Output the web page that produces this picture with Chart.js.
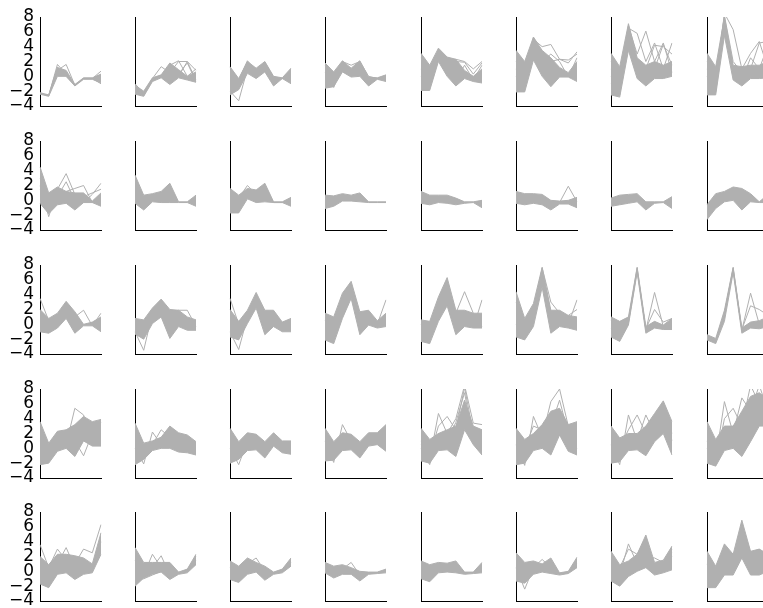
<!DOCTYPE html>
<html>
<head>
<meta charset="utf-8">
<script src="https://cdn.jsdelivr.net/npm/chart.js"></script>
<style>
  html, body { margin: 0; padding: 0; background: #fff; }
  #wrap { position: relative; width: 763px; height: 608px; overflow: hidden; }
  #wrap canvas { position: absolute; }
</style>
</head>
<body>
<div id="wrap"></div>
<script>
// ---- data ----
const xCats = ['0','1','2','3','4','5','6','7'];
const yTickValues = [-4, -2, 0, 2, 4, 6, 8];
const yTickLabels = ['\u22124', '\u22122', '0', '2', '4', '6', '8'];

// Row 1
const r1c1Lo = [-2.4,-2.7,0.0,0.0,-1.3,-0.4,-0.4,-0.9];
const r1c1Hi = [-2.2,-2.5,1.2,0.8,-1.1,-0.2,-0.2,0.3];
const r1c1Ex = [[-2.3,-2.6,1.6,0.3,-1.2,-0.3,-0.3,0.7],[-2.3,-2.6,0.8,1.6,-1.2,-0.3,-0.3,0.2],[-2.3,-2.6,1.2,0.0,-1.2,-0.3,-0.3,-1.0]];
const r1c2Lo = [-2.4,-2.7,-0.7,-0.2,-1.1,-0.2,-0.5,-0.8];
const r1c2Hi = [-1.2,-2.0,-0.2,0.2,1.8,0.9,0.0,0.6];
const r1c2Ex = [[-1.0,-2.3,-0.3,1.3,0.5,2.0,2.0,-0.5],[-1.5,-2.2,-0.4,0.0,1.5,2.1,0.0,1.0],[-2.0,-2.6,-0.5,0.0,0.2,0.0,2.0,0.8],[-1.8,-2.4,-0.4,0.1,1.0,0.3,1.8,-0.7]];
const r1c3Lo = [-2.5,-1.8,0.4,-0.3,0.6,-1.3,-0.3,-1.0];
const r1c3Hi = [1.3,-0.3,2.0,1.1,2.0,0.0,-0.2,1.1];
const r1c3Ex = [[-2.0,-3.3,1.0,0.5,1.5,-0.5,-0.3,0.5],[1.2,-0.5,2.1,0.8,1.9,-0.2,-0.3,0.8]];
const r1c4Lo = [-1.6,-1.4,0.6,-0.1,0.0,-1.3,-0.4,-0.7];
const r1c4Hi = [1.8,0.6,2.1,1.1,2.1,-0.1,-0.2,0.2];
const r1c4Ex = [[0.5,-1.5,1.8,0.6,1.9,-0.5,-0.3,0.0],[1.5,0.0,2.0,1.5,2.0,0.0,-0.3,-0.5]];
const r1c5Lo = [-1.9,-1.9,2.0,0.0,-1.3,-0.3,-0.7,-0.9];
const r1c5Hi = [3.1,1.5,3.8,2.6,2.3,0.8,0.0,1.0];
const r1c5Ex = [[1.0,-1.0,3.6,2.2,2.3,2.0,1.0,2.0],[2.5,0.5,3.2,1.5,2.0,1.9,0.3,1.8],[0.0,-1.5,2.5,1.0,-0.5,1.5,-0.5,1.5]];
const r1c6Lo = [-2.1,-2.1,2.2,0.0,-1.4,-0.1,-0.1,-0.7];
const r1c6Hi = [3.5,2.0,5.3,3.5,2.5,1.2,0.5,2.0];
const r1c6Ex = [[1.0,-1.0,5.0,4.0,4.3,2.3,2.2,3.0],[2.0,0.0,5.2,3.0,2.0,2.3,1.8,3.3],[0.0,-1.5,4.5,2.0,3.0,2.0,-0.1,2.5]];
const r1c7Lo = [-2.5,-2.8,3.5,-0.3,-1.3,-0.3,-0.3,0.0];
const r1c7Hi = [3.1,1.3,7.1,2.5,1.5,2.0,1.5,2.0];
const r1c7Ex = [[1.0,-1.0,6.5,5.8,2.0,4.5,1.0,4.5],[2.0,0.0,6.8,3.0,6.1,2.0,4.5,0.5],[0.0,-2.0,6.0,2.0,1.0,4.2,4.0,3.0],[-1.0,-2.5,5.5,1.5,0.0,1.0,4.3,1.5]];
const r1c8Lo = [-2.5,-2.5,5.5,-0.5,-1.3,-0.3,-0.3,-0.2];
const r1c8Hi = [3.1,1.3,8.0,1.5,1.3,1.5,1.5,2.0];
const r1c8Ex = [[1.0,-1.0,8.5,6.3,1.0,3.1,4.7,1.0],[2.0,0.0,8.2,2.0,0.5,1.0,4.5,4.7],[0.0,-2.0,7.5,1.0,-0.5,2.5,1.0,4.2]];

// Row 2
const r2c1Lo = [-0.4,-1.8,-0.6,-0.4,-1.3,-0.3,-0.3,-0.8];
const r2c1Hi = [4.5,1.0,1.8,1.2,1.0,1.0,-0.1,1.0];
const r2c1Ex = [[2.0,-2.2,1.5,3.6,0.8,-0.3,0.8,2.3],[3.0,0.5,1.0,1.2,1.6,2.0,-0.3,0.0],[1.5,0.0,0.5,2.5,0.0,0.5,1.0,1.5]];
const r2c2Lo = [-0.4,-1.3,-0.2,-0.3,-0.3,-0.3,-0.3,-0.8];
const r2c2Hi = [3.4,0.7,0.9,1.2,2.3,-0.2,-0.2,0.7];
const r2c2Ex = [];
const r2c3Lo = [-1.7,-1.7,0.2,-0.3,-0.2,-0.3,-0.3,-0.8];
const r2c3Hi = [1.6,0.7,1.6,1.4,2.3,-0.2,-0.2,0.4];
const r2c3Ex = [[1.0,0.3,2.0,0.8,2.0,-0.3,-0.3,0.0]];
const r2c4Lo = [-1.1,-0.8,-0.1,-0.1,-0.2,-0.3,-0.3,-0.3];
const r2c4Hi = [0.7,0.6,0.9,0.7,1.0,-0.2,-0.2,-0.2];
const r2c4Ex = [];
const r2c5Lo = [-0.4,-0.6,-0.3,-0.4,-0.6,-0.4,-0.3,-1.0];
const r2c5Hi = [1.2,0.7,0.7,0.7,0.3,-0.2,-0.2,0.0];
const r2c5Ex = [];
const r2c6Lo = [-0.4,-0.6,-0.4,-0.6,-1.3,-0.5,-0.5,-1.0];
const r2c6Hi = [1.2,0.9,0.9,0.8,0.0,-0.1,0.0,0.4];
const r2c6Ex = [[0.5,0.3,0.2,0.0,-0.5,-0.3,1.9,-0.2]];
const r2c7Lo = [-0.8,-0.6,-0.4,-0.2,-1.3,-0.4,-0.3,-1.1];
const r2c7Hi = [0.3,0.7,0.8,0.9,-0.2,-0.2,-0.2,0.5];
const r2c7Ex = [];
const r2c8Lo = [-2.6,-1.1,-0.2,0.0,-1.3,-0.2,-0.3,-0.3];
const r2c8Hi = [-0.6,0.9,1.2,1.8,1.6,0.9,-0.2,0.8];
const r2c8Ex = [];

// Row 3
const r3c1Lo = [-1.0,-1.2,-0.5,0.8,-1.2,-0.2,-0.2,-1.0];
const r3c1Hi = [2.0,0.8,1.5,3.1,1.7,0.0,0.3,1.0];
const r3c1Ex = [[3.5,0.5,1.0,2.5,1.0,1.9,-0.2,1.5]];
const r3c2Lo = [-1.3,-2.0,0.1,1.0,-1.9,-0.3,-0.8,-0.8];
const r3c2Hi = [0.8,0.6,2.2,3.4,2.0,1.9,1.0,0.6];
const r3c2Ex = [[-1.0,-3.5,1.5,3.0,1.5,1.9,1.9,-0.3]];
const r3c3Lo = [-1.7,-2.1,0.1,2.2,-1.4,-0.3,-1.0,-1.0];
const r3c3Hi = [2.0,0.4,1.9,4.3,1.9,1.9,0.3,0.8];
const r3c3Ex = [[3.5,0.0,1.2,4.0,1.0,1.0,-0.5,0.0],[-1.0,-3.4,1.0,3.5,0.5,-0.3,-0.5,0.3]];
const r3c4Lo = [-2.1,-2.6,0.8,3.5,-1.4,-0.1,-0.5,-0.3];
const r3c4Hi = [1.5,1.0,4.2,5.8,1.7,1.9,0.5,1.5];
const r3c4Ex = [[0.5,-1.0,3.0,5.0,1.0,1.0,0.0,3.3]];
const r3c5Lo = [-2.3,-2.6,0.4,2.5,-1.4,-0.3,-0.5,-0.5];
const r3c5Hi = [0.6,0.4,3.7,6.3,1.9,1.9,1.5,1.5];
const r3c5Ex = [[0.0,-2.0,3.0,5.5,1.5,4.4,1.5,-0.3],[-1.0,-1.5,2.5,5.0,0.5,1.5,-0.5,3.3]];
const r3c6Lo = [-1.7,-2.1,-0.3,5.0,-1.2,-0.3,-0.5,-0.8];
const r3c6Hi = [4.4,0.8,2.8,7.7,1.9,1.9,1.2,1.0];
const r3c6Ex = [[3.0,0.5,1.5,7.6,3.0,1.5,0.0,3.3],[0.0,-1.5,1.0,7.0,1.5,0.5,1.2,2.0]];
const r3c7Lo = [-1.7,-2.3,-0.1,7.0,-1.2,-0.5,-0.7,-0.7];
const r3c7Hi = [1.0,0.4,1.0,7.7,-0.3,0.4,-0.1,0.8];
const r3c7Ex = [[0.5,-1.5,0.5,7.6,-0.8,4.3,-0.3,0.5],[-0.5,-2.0,0.2,7.3,-0.6,2.0,0.3,0.8]];
const r3c8Lo = [-2.1,-2.6,0.4,7.0,-1.2,-0.5,-0.6,-0.3];
const r3c8Hi = [-1.4,-1.9,1.9,7.7,-0.5,0.3,0.5,1.0];
const r3c8Ex = [[-1.8,-2.3,1.5,7.6,-0.8,4.2,0.0,0.5],[-1.6,-2.2,1.2,7.4,-0.7,2.5,2.0,1.2]];

// Row 4
const r4c1Lo = [-2.2,-2.0,-0.4,0.0,-1.1,1.0,0.3,0.3];
const r4c1Hi = [3.6,0.7,2.3,2.5,3.2,4.3,3.6,3.9];
const r4c1Ex = [[1.0,-0.5,1.5,0.5,5.4,4.5,0.5,1.0],[0.0,-1.0,0.5,2.0,1.0,-1.0,2.0,3.5]];
const r4c2Lo = [-2.2,-1.5,-0.3,0.0,0.0,-0.5,-0.6,-0.9];
const r4c2Hi = [3.4,0.7,1.0,1.5,3.0,2.1,1.8,0.9];
const r4c2Ex = [[0.0,-2.1,2.2,0.5,2.5,1.0,1.5,0.5],[1.0,0.0,0.5,2.5,1.5,1.5,0.0,0.0]];
const r4c3Lo = [-2.0,-1.5,-0.3,-0.2,-1.3,0.3,-0.6,-0.8];
const r4c3Hi = [2.7,0.9,2.1,1.9,0.9,2.1,1.0,1.0];
const r4c3Ex = [[0.0,-2.2,1.0,0.5,0.0,2.0,0.5,0.0]];
const r4c4Lo = [-1.7,-1.6,-0.3,-0.2,-1.3,0.3,0.5,-0.4];
const r4c4Hi = [2.7,0.9,2.1,1.9,0.9,2.1,2.1,3.2];
const r4c4Ex = [[1.0,-1.9,3.2,1.0,0.5,1.5,1.0,1.5]];
const r4c5Lo = [-1.7,-2.0,-0.3,-0.2,-1.1,2.5,0.5,-0.9];
const r4c5Hi = [2.7,1.2,2.0,2.5,3.0,6.5,3.0,2.5];
const r4c5Ex = [[0.5,-1.5,4.7,2.0,4.0,8.5,3.4,3.2],[1.0,-1.0,3.0,4.3,2.5,8.2,2.0,1.0],[0.0,-2.2,2.0,1.0,3.5,7.5,1.0,0.0]];
const r4c6Lo = [-2.2,-2.0,-0.3,0.0,-0.9,1.8,-0.4,-0.9];
const r4c6Hi = [2.7,1.2,2.0,3.2,5.0,5.4,3.2,3.6];
const r4c6Ex = [[0.5,-2.3,4.3,1.5,6.3,8.0,3.0,3.0],[1.0,0.0,3.0,2.5,3.0,6.5,2.0,0.0]];
const r4c7Lo = [-2.0,-1.8,-0.3,-0.2,-1.0,0.9,2.0,-0.9];
const r4c7Hi = [3.0,1.4,2.0,2.0,3.0,4.7,6.4,3.6];
const r4c7Ex = [[0.5,-2.2,4.5,1.0,4.5,2.0,6.0,1.0],[1.0,0.0,2.5,4.5,2.0,4.5,5.5,2.0]];
const r4c8Lo = [-2.0,-2.4,-0.3,0.0,-1.1,0.9,3.0,3.0];
const r4c8Hi = [3.6,1.2,3.0,3.0,5.0,7.0,7.5,6.5];
const r4c8Ex = [[1.0,-1.5,6.3,2.0,6.8,5.0,8.5,5.0],[0.0,-2.0,4.0,5.4,3.0,8.5,6.0,7.0]];

// Row 5
const r5c1Lo = [-1.7,-2.2,-0.4,-0.2,-1.1,-0.4,-0.2,2.3];
const r5c1Hi = [2.0,0.9,2.3,2.3,2.1,1.8,1.0,5.2];
const r5c1Ex = [[3.6,0.5,3.0,1.5,1.0,3.0,2.5,6.3],[0.0,-1.0,1.0,3.2,0.5,1.5,0.0,4.0]];
const r5c2Lo = [-2.0,-0.9,-0.4,-0.1,-1.1,-0.4,-0.2,0.9];
const r5c2Hi = [3.2,1.2,1.2,1.2,1.2,-0.1,0.3,2.3];
const r5c2Ex = [[1.5,-0.5,2.3,0.5,0.8,-0.3,0.0,1.5],[0.0,0.5,0.5,2.1,-0.5,-0.3,0.1,2.0],[-1.0,-1.0,-0.5,0.0,0.3,-0.3,0.2,1.0]];
const r5c3Lo = [-1.1,-1.5,-0.4,-0.1,-1.2,-0.4,-0.2,0.7];
const r5c3Hi = [1.4,0.7,1.8,1.2,0.7,-0.1,0.3,1.8];
const r5c3Ex = [[0.5,-1.0,1.0,1.8,0.0,-0.3,0.0,1.2]];
const r5c4Lo = [-0.2,-0.9,-0.4,-0.4,-1.3,-0.4,-0.3,-0.2];
const r5c4Hi = [1.2,0.7,0.9,0.5,0.0,-0.1,-0.1,0.3];
const r5c4Ex = [[0.5,-0.5,0.3,1.2,-0.5,-0.3,-0.2,0.0]];
const r5c5Lo = [-1.0,-1.4,-0.2,-0.1,-0.2,-0.4,-0.3,-0.2];
const r5c5Hi = [1.4,0.9,1.2,1.1,1.4,-0.1,-0.1,1.2];
const r5c5Ex = [];
const r5c6Lo = [-1.3,-1.6,-0.4,-0.1,-0.3,-0.5,-0.3,0.5];
const r5c6Hi = [2.5,1.2,1.4,1.0,1.8,-0.2,0.0,1.9];
const r5c6Ex = [[0.5,-2.4,0.5,1.6,0.5,-0.3,-0.2,1.0]];
const r5c7Lo = [-1.3,-2.0,-0.7,0.0,0.5,-0.5,-0.2,0.2];
const r5c7Hi = [2.7,0.9,1.4,2.3,4.9,1.2,1.5,3.4];
const r5c7Ex = [[2.7,-0.5,3.7,1.0,2.5,-0.3,0.0,3.0],[1.0,0.5,3.0,2.3,4.5,-0.3,0.3,2.0],[0.0,-1.0,1.0,1.5,2.0,1.8,1.2,2.5]];
const r5c8Lo = [-2.2,-2.2,-0.5,-0.5,1.8,-0.5,-0.5,0.0];
const r5c8Hi = [2.7,0.7,3.7,2.3,6.9,2.7,3.0,2.3];
const r5c8Ex = [[1.0,-1.5,3.0,1.5,6.5,1.0,3.0,1.0],[0.0,-0.5,2.5,2.0,5.5,2.5,-0.3,1.5]];

const panelRows = [
  [[r1c1Lo,r1c1Hi,r1c1Ex],[r1c2Lo,r1c2Hi,r1c2Ex],[r1c3Lo,r1c3Hi,r1c3Ex],[r1c4Lo,r1c4Hi,r1c4Ex],[r1c5Lo,r1c5Hi,r1c5Ex],[r1c6Lo,r1c6Hi,r1c6Ex],[r1c7Lo,r1c7Hi,r1c7Ex],[r1c8Lo,r1c8Hi,r1c8Ex]],
  [[r2c1Lo,r2c1Hi,r2c1Ex],[r2c2Lo,r2c2Hi,r2c2Ex],[r2c3Lo,r2c3Hi,r2c3Ex],[r2c4Lo,r2c4Hi,r2c4Ex],[r2c5Lo,r2c5Hi,r2c5Ex],[r2c6Lo,r2c6Hi,r2c6Ex],[r2c7Lo,r2c7Hi,r2c7Ex],[r2c8Lo,r2c8Hi,r2c8Ex]],
  [[r3c1Lo,r3c1Hi,r3c1Ex],[r3c2Lo,r3c2Hi,r3c2Ex],[r3c3Lo,r3c3Hi,r3c3Ex],[r3c4Lo,r3c4Hi,r3c4Ex],[r3c5Lo,r3c5Hi,r3c5Ex],[r3c6Lo,r3c6Hi,r3c6Ex],[r3c7Lo,r3c7Hi,r3c7Ex],[r3c8Lo,r3c8Hi,r3c8Ex]],
  [[r4c1Lo,r4c1Hi,r4c1Ex],[r4c2Lo,r4c2Hi,r4c2Ex],[r4c3Lo,r4c3Hi,r4c3Ex],[r4c4Lo,r4c4Hi,r4c4Ex],[r4c5Lo,r4c5Hi,r4c5Ex],[r4c6Lo,r4c6Hi,r4c6Ex],[r4c7Lo,r4c7Hi,r4c7Ex],[r4c8Lo,r4c8Hi,r4c8Ex]],
  [[r5c1Lo,r5c1Hi,r5c1Ex],[r5c2Lo,r5c2Hi,r5c2Ex],[r5c3Lo,r5c3Hi,r5c3Ex],[r5c4Lo,r5c4Hi,r5c4Ex],[r5c5Lo,r5c5Hi,r5c5Ex],[r5c6Lo,r5c6Hi,r5c6Ex],[r5c7Lo,r5c7Hi,r5c7Ex],[r5c8Lo,r5c8Hi,r5c8Ex]]
];

// ---- layout / style ----
const GREY = '#b0b0b0';
const YW = 40, PT = 12, PB = 4, PR = 3, PW = 61, PH = 89;
const colAxisX = c => Math.round(39.5 + 95.3 * c);
const rowTopY = r => Math.round(17.3 + 123.75 * r);

const wrap = document.getElementById('wrap');

function lineDs(data, extra) {
  return Object.assign({
    data: data, borderColor: GREY, backgroundColor: GREY, borderWidth: 1,
    pointRadius: 0, fill: false, tension: 0
  }, extra || {});
}

panelRows.forEach((row, r) => {
  row.forEach(([lo, hi, ex], c) => {
    const cv = document.createElement('canvas');
    const w = YW + PW + PR, h = PT + PH + PB;
    cv.width = w; cv.height = h;
    cv.style.width = w + 'px'; cv.style.height = h + 'px';
    cv.style.left = (colAxisX(c) - YW) + 'px';
    cv.style.top = (rowTopY(r) - PT) + 'px';
    wrap.appendChild(cv);
    const showY = c === 0;
    const datasets = [lineDs(lo), lineDs(hi, { fill: '-1' })].concat(ex.map(d => lineDs(d)));
    new Chart(cv, {
      type: 'line',
      data: { labels: xCats, datasets: datasets },
      options: {
        responsive: false, animation: false, events: [],
        layout: { padding: { top: PT, bottom: PB, left: 0, right: PR } },
        plugins: { legend: { display: false }, tooltip: { enabled: false }, title: { display: false } },
        scales: {
          x: {
            type: 'category', offset: false,
            grid: { display: false, drawTicks: false },
            border: { display: true, color: '#000', width: 1 },
            ticks: { display: false },
            afterFit(s) { s.height = 0; s.paddingLeft = 0; s.paddingRight = 0; }
          },
          y: {
            min: -4, max: 8,
            grid: { display: false, drawTicks: false },
            border: { display: true, color: '#000', width: 1 },
            ticks: {
              display: showY, stepSize: 2, autoSkip: false, padding: 6, color: '#000',
              font: { family: 'DejaVu Sans', size: 17 },
              callback: v => { const i = yTickValues.indexOf(v); return i >= 0 ? yTickLabels[i] : ''; }
            },
            afterFit(s) { s.width = YW; s.paddingTop = 0; s.paddingBottom = 0; }
          }
        }
      }
    });
  });
});
</script>
</body>
</html>
